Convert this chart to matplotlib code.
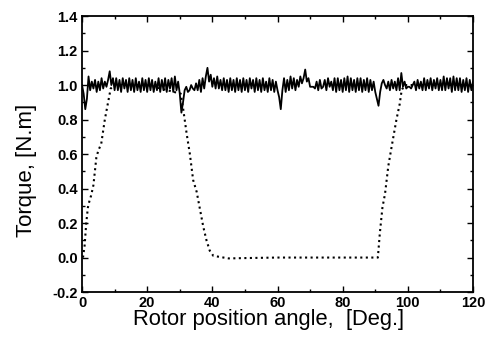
import numpy as np
import matplotlib
matplotlib.use("Agg")
import matplotlib.pyplot as plt
from matplotlib.ticker import MultipleLocator

# measured torque, sampled every 0.5 deg from 0 to 120 deg
torque_solid = [
    # 0 - 10
    1.00, 0.95, 0.86, 0.92, 1.05, 0.97, 1.02, 0.98, 1.03, 0.96, 1.02,
    0.97, 1.04, 0.98, 1.02, 0.99, 1.03, 1.08, 1.00, 1.04, 0.97,
    # 10.5 - 30
    1.04, 0.97, 1.03, 0.96, 1.04, 0.98, 1.03, 0.96, 1.04, 0.97,
    1.03, 0.96, 1.04, 0.97, 1.02, 0.96, 1.04, 0.97, 1.03, 0.96,
    1.04, 0.97, 1.03, 0.96, 1.02, 0.97, 1.04, 0.96, 1.03, 0.97,
    1.04, 0.96, 1.03, 0.98, 1.04, 0.96, 1.05, 0.97, 1.02, 0.95,
    # 30.5 - 40
    0.84, 0.90, 0.97, 0.99, 0.96, 0.97, 1.00, 0.98, 0.97, 1.01,
    0.97, 1.03, 0.96, 1.04, 0.98, 1.05, 1.10, 1.02, 1.06, 0.99,
    # 40.5 - 60
    1.04, 0.98, 1.05, 0.98, 1.03, 0.97, 1.04, 0.97, 1.03, 0.96,
    1.04, 0.97, 1.03, 0.96, 1.04, 0.97, 1.03, 0.96, 1.04, 0.97,
    1.03, 0.96, 1.04, 0.98, 1.03, 0.96, 1.04, 0.97, 1.03, 0.96,
    1.04, 0.97, 1.02, 0.96, 1.04, 0.97, 1.03, 0.96, 1.02, 0.97,
    # 60.5 - 70
    0.93, 0.86, 0.97, 1.04, 0.96, 1.03, 0.97, 1.05, 0.98, 1.04,
    0.97, 1.03, 0.99, 1.05, 1.01, 1.04, 1.09, 1.02, 1.04, 0.99,
    # 70.5 - 80
    0.99, 0.99, 0.98, 1.02, 0.97, 1.03, 0.98, 0.99, 1.03, 0.97,
    1.04, 0.99, 1.02, 0.97, 1.04, 0.96, 1.04, 0.97, 1.03, 0.96,
    # 80.5 - 90
    1.04, 0.97, 1.05, 0.96, 1.04, 0.97, 1.03, 0.96, 1.04, 0.97,
    1.04, 0.96, 1.03, 0.97, 1.04, 0.96, 1.03, 0.97, 1.02, 0.96,
    # 90.5 - 100
    0.92, 0.88, 0.96, 1.01, 1.03, 1.00, 0.98, 1.02, 0.97, 1.03,
    0.98, 1.02, 0.97, 1.04, 0.97, 1.07, 0.99, 1.02, 0.98, 0.99,
    # 100.5 - 120
    0.99, 0.98, 1.00, 1.02, 0.97, 1.03, 0.98, 1.02, 0.97, 1.04,
    0.97, 1.03, 0.98, 1.04, 0.97, 1.03, 0.98, 1.04, 0.97, 1.03,
    0.97, 1.05, 0.97, 1.04, 0.98, 1.04, 0.96, 1.05, 0.97, 1.04,
    0.97, 1.04, 0.96, 1.03, 0.97, 1.04, 0.96, 1.03, 0.97, 1.02,
]
angle_solid = np.linspace(0, 120, len(torque_solid))

# single phase torque (dotted curve)
angle_dot = [0.3, 0.8, 1.3, 1.8, 2.3, 2.8, 3.5, 4.4, 5.0, 5.9, 7.0, 8.0, 8.8,
             10, 20, 30.3, 31.1, 32.1, 33.1, 34.1, 35.2, 36.2, 37.2, 38.2,
             39.2, 40.3, 45, 50, 60, 70, 80, 90.8, 91.4, 92.2, 93.0, 94.0,
             95.0, 96.5, 97.5, 98.1, 99, 110, 120]
torque_dot = [0.0, 0.07, 0.2, 0.29, 0.33, 0.36, 0.42, 0.58, 0.62, 0.66, 0.80,
              0.90, 0.98, 1.0, 1.0, 0.95, 0.855, 0.72, 0.60, 0.45, 0.38, 0.28,
              0.18, 0.10, 0.04, 0.01, -0.005, -0.003, 0.0, 0.0, 0.0, 0.0,
              0.14, 0.29, 0.37, 0.53, 0.64, 0.80, 0.89, 0.97, 1.0, 1.0, 1.0]

yticks = [-0.2, 0.0, 0.2, 0.4, 0.6, 0.8, 1.0, 1.2, 1.4]

plt.rcParams['font.family'] = ['Liberation Sans', 'DejaVu Sans']

fig = plt.figure(figsize=(4.92, 3.44), dpi=100)
ax = fig.add_axes([0.1667, 0.151, 0.7947, 0.8023])

ax.plot(angle_dot, torque_dot, color='black', linestyle=':', linewidth=1.5)
ax.plot(angle_solid, torque_solid, color='black', linewidth=1.3)

ax.set_xlim(0, 120)
ax.set_ylim(-0.2, 1.4)
ax.xaxis.set_major_locator(MultipleLocator(20))
ax.xaxis.set_minor_locator(MultipleLocator(10))
ax.yaxis.set_minor_locator(MultipleLocator(0.1))
ax.set_yticks(yticks)
ax.set_yticklabels([f"{v:.1f}" for v in yticks])

ax.tick_params(which='both', direction='in', top=True, right=True,
               labelsize=10.5, pad=3, width=1.0)
ax.tick_params(which='major', length=4)
ax.tick_params(which='minor', length=2)
for lab in ax.get_xticklabels() + ax.get_yticklabels():
    lab.set_fontweight('bold')
for s in ax.spines.values():
    s.set_linewidth(1.3)

ax.set_xlabel('Rotor position angle,  [Deg.]', fontsize=15.8)
ax.set_ylabel('Torque, [N.m]', fontsize=16)
ax.xaxis.set_label_coords(0.477, -0.062)
ax.yaxis.set_label_coords(-0.114, 0.44)

fig.savefig('out.png', dpi=100)
